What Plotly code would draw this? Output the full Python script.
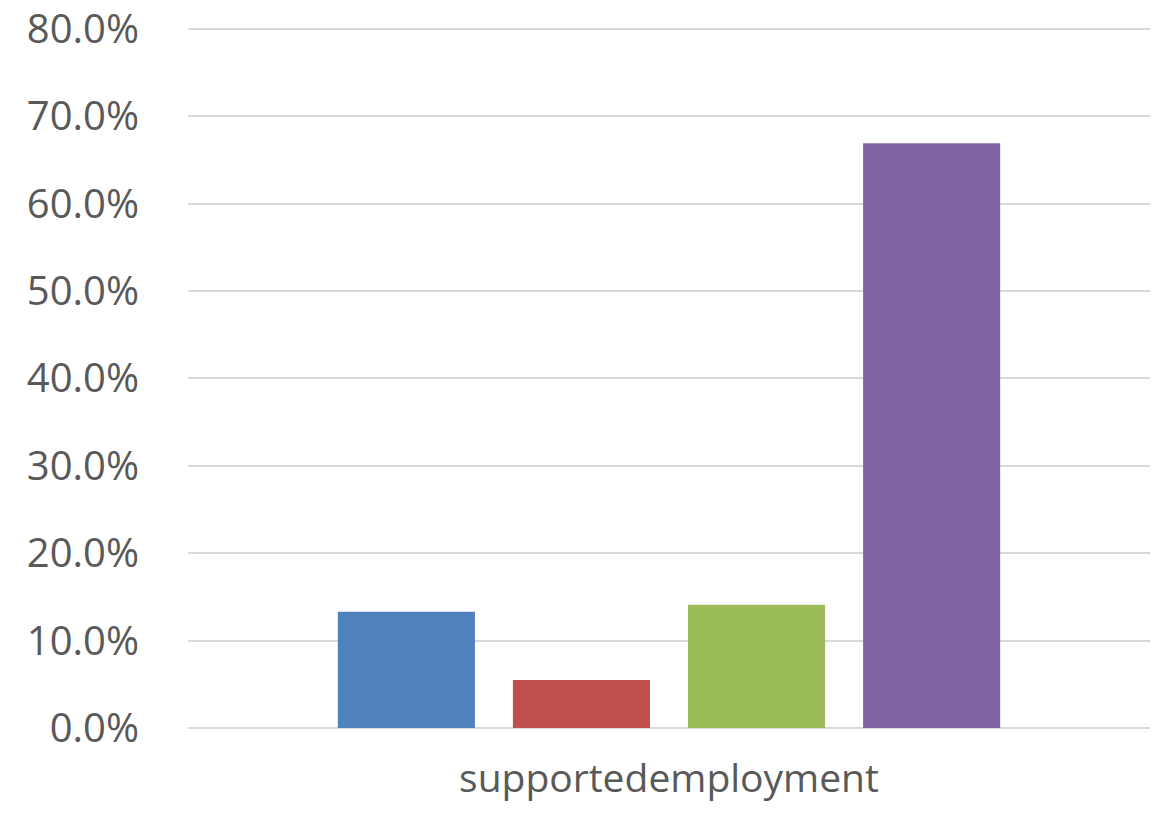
import plotly.graph_objects as go

categories = ["supportedemployment"]
series_names = ["Series 1", "Series 2", "Series 3", "Series 4"]
series_values = [[0.133], [0.055], [0.141], [0.669]]
series_colors = ["#4F81BD", "#C0504D", "#9BBB59", "#8064A2"]
y_tick_values = [0, 0.1, 0.2, 0.3, 0.4, 0.5, 0.6, 0.7, 0.8]

fig = go.Figure()
for name, vals, col in zip(series_names, series_values, series_colors):
    fig.add_trace(go.Bar(x=categories, y=vals, name=name, marker_color=col,
                         marker_line_width=0))

font_family = "'Open Sans', sans-serif"
fig.update_layout(
    width=1154, height=813,
    margin=dict(l=188, r=4, t=27, b=85),
    paper_bgcolor="white", plot_bgcolor="white",
    barmode="group", bargap=0.272, bargroupgap=0.217,
    showlegend=False,
    font=dict(family=font_family, color="#595959", size=38),
)
fig.update_yaxes(range=[0, 0.802], tickvals=y_tick_values, tickformat=".1%",
                 showgrid=True, gridcolor="#d9d9d9", gridwidth=2,
                 zeroline=True, zerolinecolor="#d9d9d9", zerolinewidth=2,
                 showline=False, ticks="", ticklabeloverflow="allow",
                 automargin=False,
                 ticklabelstandoff=48, tickfont=dict(size=40))
fig.update_xaxes(showgrid=False, showline=False, ticks="", automargin=False,
                 ticklabelstandoff=24, tickfont=dict(size=39))

fig.write_html("out.html",
               config={"displayModeBar": False},
               post_script="document.body.style.margin='0';document.body.style.overflow='hidden';")
